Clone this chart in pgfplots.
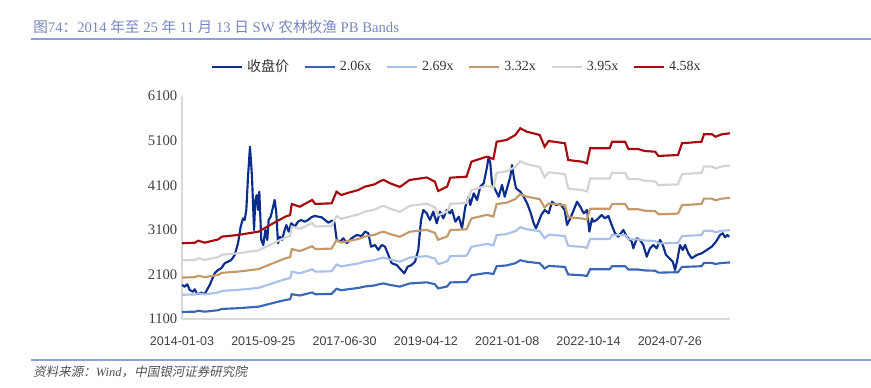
\documentclass[border=0pt]{standalone}
\usepackage{fontspec}
\setmainfont{Liberation Serif}
\newfontfamily\cjk{Noto Sans CJK SC}
\newfontfamily\cjkit[FakeSlant=0.2]{Noto Sans CJK SC}
\newfontfamily\xsans{Liberation Sans}
\usepackage{pgfplots}
\usepackage{pgfplotstable}
\pgfplotsset{compat=1.18}
\definecolor{cprice}{RGB}{12,45,140}
\definecolor{cb1}{RGB}{58,102,184}
\definecolor{cb2}{RGB}{168,192,234}
\definecolor{cb3}{RGB}{196,154,108}
\definecolor{cb4}{RGB}{211,211,211}
\definecolor{cb5}{RGB}{165,10,15}
\definecolor{ctitle}{RGB}{118,136,190}
\definecolor{cline}{RGB}{140,162,212}
\definecolor{caxis}{RGB}{217,217,217}
\definecolor{csrc}{RGB}{80,80,80}

\pgfplotstableread{
x b206 b269 b332 b395 b458
0.00 1258 1643 2028 2413 2798
0.16 1264 1651 2038 2425 2811
0.20 1285 1677 2070 2463 2856
0.28 1264 1651 2038 2425 2811
0.45 1298 1696 2093 2490 2887
0.49 1325 1730 2135 2541 2946
0.69 1342 1753 2163 2573 2984
0.86 1365 1783 2200 2618 3035
0.94 1375 1796 2217 2637 3058
1.10 1450 1893 2337 2780 3224
1.27 1526 1993 2460 2927 3394
1.33 1544 2016 2488 2960 3432
1.35 1655 2161 2667 3173 3679
1.45 1627 2125 2623 3121 3618
1.60 1695 2213 2731 3250 3768
1.64 1655 2161 2667 3173 3679
1.84 1662 2170 2678 3186 3694
1.90 1778 2322 2866 3410 3954
1.96 1745 2279 2813 3346 3880
2.05 1769 2309 2850 3391 3932
2.17 1796 2345 2894 3444 3993
2.25 1829 2389 2948 3508 4067
2.37 1853 2420 2987 3553 4120
2.44 1886 2463 3040 3617 4194
2.48 1897 2477 3057 3637 4217
2.56 1863 2433 3003 3573 4143
2.68 1826 2385 2943 3502 4060
2.80 1897 2477 3057 3637 4217
3.01 1922 2510 3098 3685 4273
3.11 1880 2454 3029 3604 4179
3.15 1786 2332 2878 3424 3970
3.26 1829 2389 2948 3508 4067
3.30 1920 2507 3094 3681 4268
3.50 1930 2520 3110 3701 4291
3.56 2081 2718 3354 3991 4627
3.71 2122 2770 3419 4068 4717
3.75 2131 2783 3435 4087 4739
3.83 2109 2753 3398 4043 4688
3.87 2283 2981 3679 4377 5075
3.99 2300 3003 3706 4410 5113
4.10 2350 3069 3788 4507 5226
4.16 2418 3157 3897 4637 5376
4.24 2384 3113 3842 4571 5300
4.40 2350 3069 3788 4507 5226
4.46 2232 2915 3598 4280 4963
4.51 2290 2990 3691 4391 5091
4.71 2267 2960 3653 4347 5040
4.75 2098 2740 3382 4023 4665
4.92 2081 2718 3354 3991 4627
4.98 2065 2696 3328 3959 4591
5.02 2216 2894 3572 4249 4927
5.26 2216 2894 3572 4249 4927
5.29 2283 2981 3679 4377 5075
5.45 2283 2981 3679 4377 5075
5.49 2209 2885 3561 4236 4912
5.61 2209 2885 3561 4236 4912
5.69 2189 2859 3528 4198 4867
5.82 2182 2849 3517 4184 4851
5.86 2139 2793 3447 4101 4755
6.10 2149 2806 3463 4120 4777
6.15 2267 2960 3653 4347 5040
6.39 2283 2981 3679 4377 5075
6.42 2357 3078 3799 4520 5241
6.52 2357 3078 3799 4520 5241
6.56 2333 3046 3760 4473 5187
6.64 2357 3078 3799 4520 5241
6.74 2368 3092 3816 4540 5264
}\bands

\pgfplotstableread{
x close
0.000 1863
0.033 1825
0.065 1878
0.095 1751
0.135 1712
0.156 1766
0.188 1661
0.237 1690
0.279 1661
0.341 1863
0.402 2125
0.443 2199
0.483 2237
0.525 2349
0.566 2385
0.606 2423
0.648 2535
0.689 2798
0.722 3170
0.750 3358
0.771 3320
0.791 3544
0.812 4291
0.836 4963
0.861 4291
0.886 3096
0.902 3768
0.919 3880
0.935 3544
0.951 3954
0.975 2872
1.000 2759
1.025 3096
1.049 2872
1.066 3320
1.091 3394
1.116 3582
1.140 3768
1.160 3470
1.181 2798
1.205 2946
1.230 2872
1.263 3096
1.283 3208
1.312 3058
1.344 3246
1.386 3170
1.427 3282
1.467 3320
1.509 3282
1.550 3320
1.590 3380
1.632 3410
1.718 3380
1.759 3320
1.800 3259
1.841 3304
1.873 3282
1.903 2872
1.943 2834
1.984 2910
2.026 2798
2.087 2910
2.149 2983
2.210 2961
2.251 3058
2.292 3022
2.325 2721
2.374 2759
2.415 2647
2.456 2759
2.497 2721
2.538 2535
2.580 2349
2.641 2311
2.694 2199
2.734 2125
2.776 2273
2.825 2311
2.866 2385
2.906 2647
2.940 3320
2.968 3544
3.010 3470
3.050 3320
3.091 3506
3.133 3246
3.173 3506
3.214 3358
3.256 3544
3.296 3470
3.321 3544
3.362 3282
3.404 3394
3.444 3134
3.485 3618
3.526 3842
3.546 3656
3.588 3918
3.629 3768
3.669 4067
3.711 4143
3.752 4515
3.772 4739
3.792 4591
3.813 4143
3.854 3993
3.895 3842
3.936 4105
3.969 3842
3.998 4031
4.038 4291
4.059 4553
4.080 4291
4.108 4031
4.161 3954
4.203 3842
4.244 3694
4.284 3506
4.326 3246
4.354 3134
4.387 3282
4.419 3432
4.461 3544
4.510 3470
4.551 3730
4.600 3656
4.653 3678
4.707 3544
4.736 3208
4.776 3358
4.818 3544
4.859 3730
4.899 3618
4.941 3470
4.982 3544
5.010 3058
5.043 3358
5.059 3282
5.101 3320
5.162 3432
5.203 3358
5.244 3410
5.285 3208
5.326 3022
5.367 2946
5.428 3096
5.470 2946
5.531 2834
5.551 2685
5.593 2910
5.633 2872
5.674 2759
5.716 2497
5.756 2685
5.797 2759
5.839 2685
5.879 2872
5.913 2759
5.953 2535
5.994 2461
6.036 2385
6.064 2199
6.092 2423
6.125 2759
6.159 2647
6.187 2759
6.228 2573
6.269 2461
6.331 2535
6.392 2573
6.454 2647
6.515 2721
6.568 2834
6.617 2983
6.650 3022
6.679 2932
6.707 2983
6.730 2946
}\closep

\begin{document}
\begin{tikzpicture}
\path[use as bounding box] (0pt,0pt) rectangle (653.25pt,-291pt);
\node[anchor=west, inner sep=0pt, text=ctitle, font=\fontsize{11}{13}\selectfont] at (24.75pt,-20.25pt)
 {{\cjk 图}74{\cjk ：}2014 {\cjk 年至} 25 {\cjk 年} 11 {\cjk 月} 13 {\cjk 日} SW {\cjk 农林牧渔} PB Bands};
\draw[cline, line width=0.9pt] (23.25pt,-29.25pt) -- (653.25pt,-29.25pt);
\draw[cline, line width=0.9pt] (23.25pt,-270pt) -- (653.25pt,-270pt);
\node[anchor=west, inner sep=0pt, text=csrc, font=\fontsize{9.4}{11}\selectfont] at (24.75pt,-279pt)
 {{\cjkit 资料来源：}\textit{Wind}{\cjkit ，中国银河证券研究院}};
\begin{axis}[
  at={(136.5pt,-72pt)}, anchor=north west,
  scale only axis, width=411pt, height=167.25pt,
  xmin=0, xmax=6.74, ymin=1100, ymax=6100,
  axis x line*=bottom, axis y line*=left,
  axis line style={caxis, line width=0.8pt, -},
  xtick={0,1,2,3,4,5,6},
  xticklabels={2014-01-03,2015-09-25,2017-06-30,2019-04-12,2021-01-08,2022-10-14,2024-07-26},
  ytick={1100,2100,3100,4100,5100,6100},
  major tick length=0pt,
  xticklabel style={font=\xsans\fontsize{9.4}{11}\selectfont, text=black!75, yshift=-10pt},
  yticklabel style={font=\fontsize{11}{13}\selectfont, text=black!75},
  /pgf/number format/assume math mode=true,
  /pgf/number format/1000 sep={},
  clip=false,
  legend columns=6,
  legend style={at={(0.502,1.13)}, anchor=center, draw=none, fill=none,
    font=\fontsize{10.5}{12}\selectfont, text=black!80,
    /tikz/every odd column/.append style={column sep=1pt},
    /tikz/every even column/.append style={column sep=9pt}},
  legend image code/.code={\draw[#1] (0pt,0pt) -- (22.5pt,0pt);},
]
\addplot[cprice, line width=1.6pt, line join=round] table[x=x, y=close] {\closep};
\addlegendentry{{\cjk 收盘价}}
\addplot[cb1, line width=1.6pt] table[x=x, y=b206] {\bands};
\addlegendentry{2.06x}
\addplot[cb2, line width=1.6pt] table[x=x, y=b269] {\bands};
\addlegendentry{2.69x}
\addplot[cb3, line width=1.6pt] table[x=x, y=b332] {\bands};
\addlegendentry{3.32x}
\addplot[cb4, line width=1.6pt] table[x=x, y=b395] {\bands};
\addlegendentry{3.95x}
\addplot[cb5, line width=1.6pt] table[x=x, y=b458] {\bands};
\addlegendentry{4.58x}
\end{axis}
\end{tikzpicture}
\end{document}
